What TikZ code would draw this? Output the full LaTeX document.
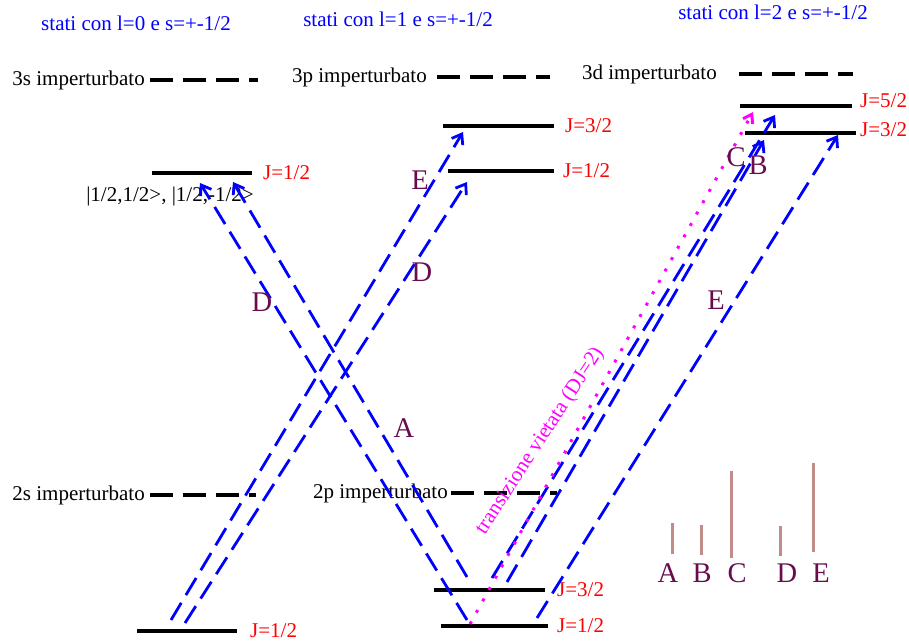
\documentclass[tikz,border=0pt]{standalone}
\usepackage{fontspec}
\setmainfont{Liberation Serif}
\usepackage{xcolor}
\usetikzlibrary{arrows.meta,positioning}
\definecolor{tlcol}{RGB}{105,12,78}
\definecolor{barpink}{RGB}{192,140,136}
\definecolor{vmag}{RGB}{255,0,255}
\definecolor{tblue}{RGB}{0,0,255}
\definecolor{jred}{RGB}{255,0,0}

\begin{document}
\begin{tikzpicture}[x=1pt,y=-1pt]\fontsize{21}{25}\selectfont
\tikzstyle{lev} = [draw=black, line width=3.2pt]
\tikzstyle{unpert} = [draw=black, line width=3.2pt, dash pattern=on 23pt off 10pt]
\tikzstyle{titl} = [text=tblue, anchor=base, inner sep=0pt]
\tikzstyle{lvname} = [inner sep=0pt]
\tikzstyle{jval} = [text=jred, inner sep=0pt]
\tikzstyle{tlab} = [text=tlcol, font=\fontsize{28.5}{30}\selectfont, inner sep=0pt]
\tikzstyle{trans} = [draw=tblue, line width=2.8pt, dash pattern=on 20pt off 9pt, -{Straight Barb[length=9pt,width=13pt]}]
\tikzstyle{forbid} = [draw=vmag, line width=3pt, dash pattern=on 3pt off 10pt, -{Straight Barb[length=8pt,width=11pt]}]
\tikzstyle{bar} = [draw=barpink, line width=3pt]

\useasboundingbox (0,0) rectangle (909,644);

% titles
\node [titl] (t0) at (136,31) {stati con l=0 e s=+-1/2};
\node [titl] (t1) at (398,27) {stati con l=1 e s=+-1/2};
\node [titl] (t2) at (773,20) {stati con l=2 e s=+-1/2};

% l=0
\coordinate (s3u-l) at (150,80);  \coordinate (s3u-r) at (258,80);
\coordinate (s3-l) at (152,173);  \coordinate (s3-r) at (252,173);
\coordinate (s2u-l) at (150,495); \coordinate (s2u-r) at (256,495);
\coordinate (s2-l) at (137,631);  \coordinate (s2-r) at (237,631);
% l=1
\coordinate (p3u-l) at (437,77);  \coordinate (p3u-r) at (550,77);
\coordinate (p3b-l) at (443,126); \coordinate (p3b-r) at (554,126);
\coordinate (p3a-l) at (448,171); \coordinate (p3a-r) at (554,171);
\coordinate (p2u-l) at (451,493); \coordinate (p2u-r) at (557,493);
\coordinate (p2b-l) at (434,590); \coordinate (p2b-r) at (545,590);
\coordinate (p2a-l) at (441,626); \coordinate (p2a-r) at (548,626);
% l=2
\coordinate (d3u-l) at (739,74);  \coordinate (d3u-r) at (853,74);
\coordinate (d3c-l) at (740,106); \coordinate (d3c-r) at (852,106);
\coordinate (d3b-l) at (745,133); \coordinate (d3b-r) at (856,133);

\path [unpert] (s3u-l) -- (s3u-r);
\path [unpert] (s2u-l) -- (s2u-r);
\path [unpert] (p3u-l) -- (p3u-r);
\path [unpert] (p2u-l) -- (p2u-r);
\path [unpert] (d3u-l) -- (d3u-r);
\path [lev] (s3-l) -- (s3-r);
\path [lev] (s2-l) -- (s2-r);
\path [lev] (p3b-l) -- (p3b-r);
\path [lev] (p3a-l) -- (p3a-r);
\path [lev] (p2b-l) -- (p2b-r);
\path [lev] (p2a-l) -- (p2a-r);
\path [lev] (d3c-l) -- (d3c-r);
\path [lev] (d3b-l) -- (d3b-r);

\node [lvname, left=5pt of s3u-l] (n3s) {3s imperturbato};
\node [lvname, left=5pt of s2u-l] (n2s) {2s imperturbato};
\node [lvname, left=10pt of p3u-l] (n3p) {3p imperturbato};
\node [lvname, left=3pt of p2u-l] (n2p) {2p imperturbato};
\node [lvname, left=22pt of d3u-l] (n3d) {3d imperturbato};

\node [jval, right=11pt of s3-r] (j3s) {J=1/2};
\node [jval, right=13pt of s2-r] (j2s) {J=1/2};
\node [jval, right=11pt of p3b-r] (j3pb) {J=3/2};
\node [jval, right=9pt of p3a-r] (j3pa) {J=1/2};
\node [jval, right=12pt of p2b-r] (j2pb) {J=3/2};
\node [jval, right=9pt of p2a-r] (j2pa) {J=1/2};
\node [jval, right=8pt of d3c-r, yshift=5pt] (j3dc) {J=5/2};
\node [jval, right=4pt of d3b-r, yshift=3pt] (j3db) {J=3/2};
\node [lvname] (ket) at (170,196) {|1/2,1/2>, |1/2,-1/2>};

% transitions
\coordinate (lowA) at (467,577);  \coordinate (upA) at (233,182);
\coordinate (lowD1) at (467,620); \coordinate (upD1) at (200,183);
\coordinate (lowE1) at (171,620); \coordinate (upE1) at (463,132);
\coordinate (lowD2) at (185,623); \coordinate (upD2) at (467,182);
\coordinate (lowB) at (507,582);  \coordinate (upB) at (764,140);
\coordinate (lowC) at (492,578);  \coordinate (upC) at (775,115);
\coordinate (lowE2) at (537,618); \coordinate (upE2) at (838,135);
\coordinate (lowF) at (470,624);  \coordinate (upF) at (753,112);

\path [trans] (lowA) -- (upA);
\path [trans] (lowD1) -- (upD1);
\path [trans] (lowE1) -- (upE1);
\path [trans] (lowD2) -- (upD2);
\path [trans] (lowB) -- (upB);
\path [trans] (lowC) -- (upC);
\path [trans] (lowE2) -- (upE2);
\path [forbid] (lowF) -- (upF);

\node [tlab] (lD1) at (262,302) {D};
\node [tlab] (lA) at (404,428) {A};
\node [tlab] (lE1) at (420,180) {E};
\node [tlab] (lD2) at (422,272) {D};
\node [tlab] (lC) at (736,157) {C};
\node [tlab] (lB) at (758,165) {B};
\node [tlab] (lE2) at (716,300) {E};
\node [lvname, text=vmag, rotate=57] (forb) at (540,441) {transizione vietata (DJ=2)};

% spectrum
\node [tlab] (sA) at (668,573) {A};
\node [tlab] (sB) at (702,573) {B};
\node [tlab] (sC) at (737,573) {C};
\node [tlab] (sD) at (787,573) {D};
\node [tlab] (sE) at (821,573) {E};
\path [bar] (672,523) -- (672,554);
\path [bar] (701,525) -- (701,555);
\path [bar] (731,471) -- (731,558);
\path [bar] (780,526) -- (780,556);
\path [bar] (813,463) -- (813,552);
\end{tikzpicture}
\end{document}
